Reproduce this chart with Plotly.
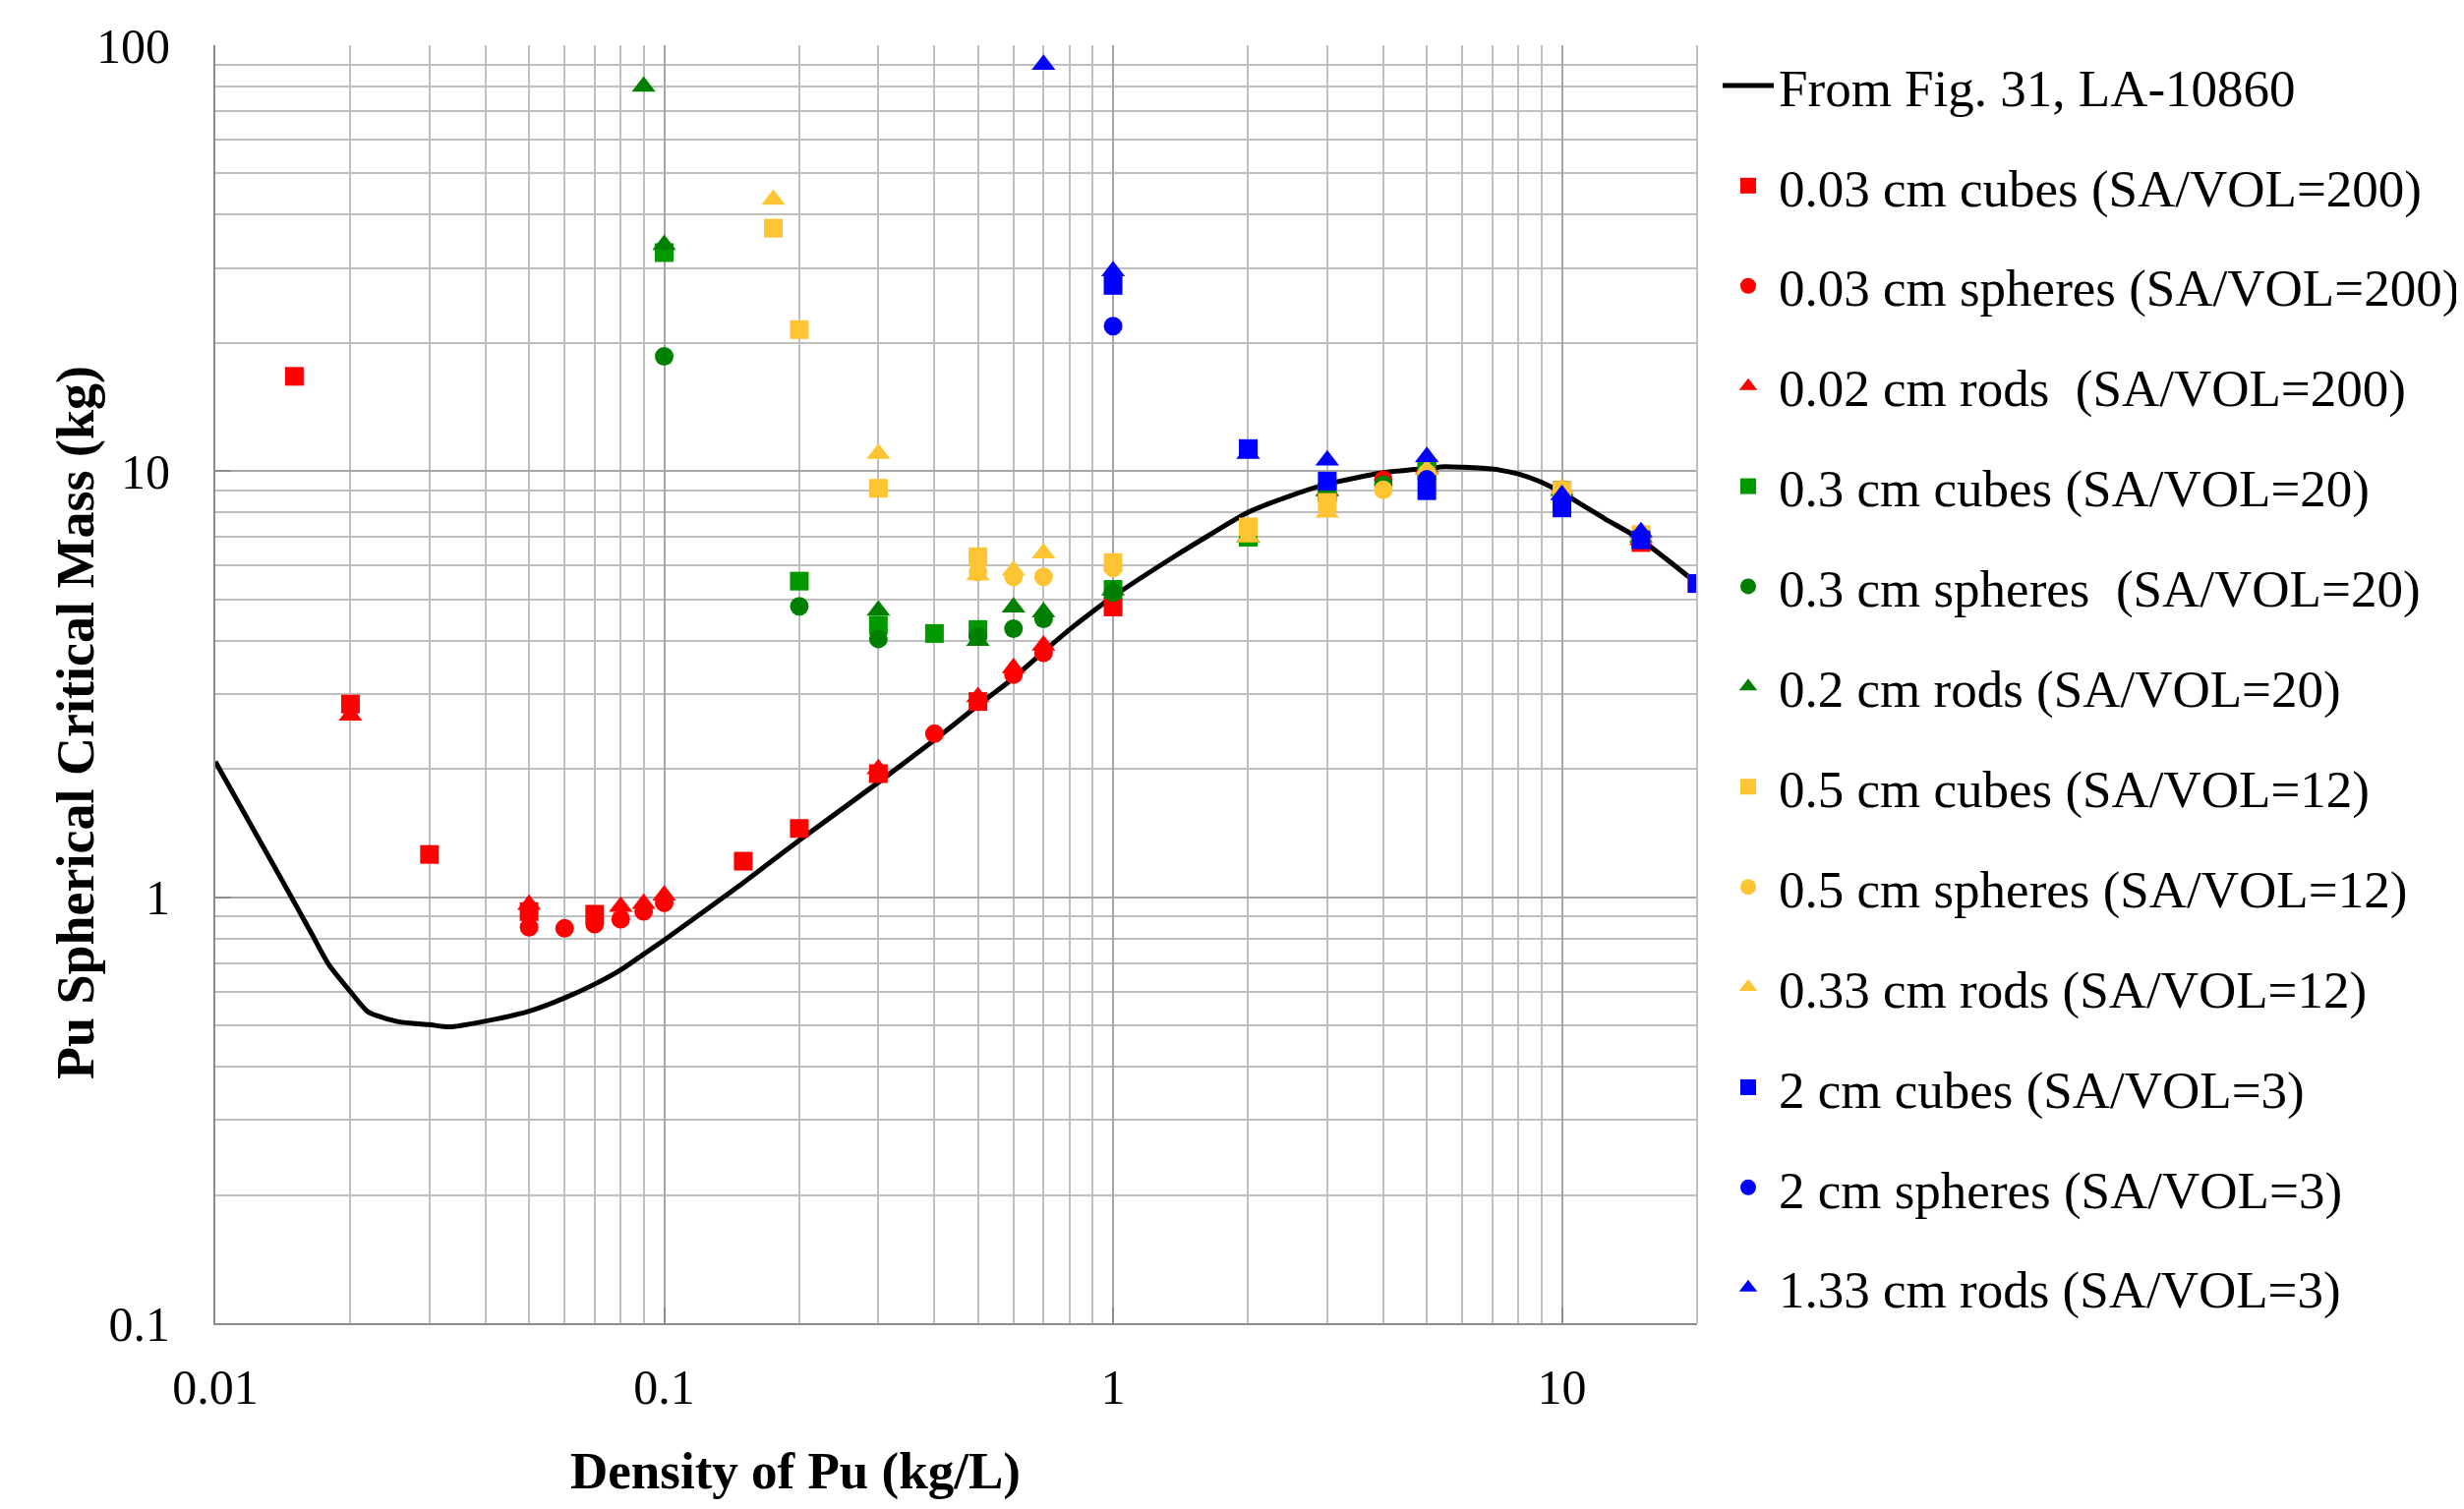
import plotly.graph_objects as go
import numpy as np

# Reference curve (From Fig. 31, LA-10860)
curve_x = [0.01, 0.01426, 0.0164, 0.01786, 0.02, 0.0219, 0.0256, 0.03, 0.0332, 0.0393, 0.05, 0.06, 0.07, 0.08,
           0.09, 0.1, 0.148, 0.2, 0.3, 0.4, 0.5, 0.6, 0.7, 0.8, 0.9, 1, 1.37, 1.66, 2, 2.44, 3, 4, 5, 5.5, 6, 7,
           8, 9, 10, 12.5, 15, 20]
curve_y = [2.08, 1.07, 0.82, 0.697, 0.6, 0.538, 0.51, 0.502, 0.496, 0.51, 0.54, 0.58, 0.625, 0.675, 0.735,
           0.793, 1.07, 1.36, 1.86, 2.34, 2.82, 3.27, 3.77, 4.25, 4.68, 5.08, 6.31, 7.14, 8.01, 8.7, 9.33, 9.92,
           10.15, 10.25, 10.22, 10.12, 9.85, 9.42, 8.9, 7.72, 6.9, 5.45]

# 0.03 cm cubes (SA/VOL=200)
red_cube_x = [0.015, 0.02, 0.03, 0.05, 0.07, 0.15, 0.2, 0.3, 0.5, 1, 2, 3, 5, 10, 15, 20]
red_cube_y = [16.7, 2.84, 1.26, 0.925, 0.912, 1.215, 1.45, 1.95, 2.88, 4.8, 7.1, 8.9, 10.0, 9.0, 6.8, 5.45]
# 0.03 cm spheres (SA/VOL=200)
red_sph_x = [0.05, 0.06, 0.07, 0.08, 0.09, 0.1, 0.4, 0.6, 0.7, 4]
red_sph_y = [0.85, 0.845, 0.865, 0.888, 0.927, 0.97, 2.42, 3.33, 3.75, 9.55]
# 0.02 cm rods (SA/VOL=200)
red_rod_x = [0.02, 0.05, 0.08, 0.09, 0.1, 0.3, 0.5, 0.6, 0.7, 2, 3, 5, 10, 15]
red_rod_y = [2.67, 0.96, 0.95, 0.965, 1.01, 2.0, 2.95, 3.45, 3.9, 7.0, 9.0, 10.2, 9.1, 6.9]

# 0.3 cm cubes (SA/VOL=20)
grn_cube_x = [0.1, 0.2, 0.3, 0.4, 0.5, 1, 2, 3, 5, 10]
grn_cube_y = [32.6, 5.52, 4.35, 4.16, 4.25, 5.28, 7.0, 8.95, 10.0, 9.0]
# 0.3 cm spheres (SA/VOL=20)
grn_sph_x = [0.1, 0.2, 0.3, 0.5, 0.6, 0.7, 1, 4, 5, 10]
grn_sph_y = [18.6, 4.82, 4.04, 4.1, 4.27, 4.5, 5.19, 9.3, 9.8, 9.0]
# 0.2 cm rods (SA/VOL=20)
grn_rod_x = [0.09, 0.1, 0.3, 0.5, 0.6, 0.7, 1, 2, 3, 5, 10, 15]
grn_rod_y = [80.0, 34.0, 4.71, 4.0, 4.79, 4.67, 5.25, 7.0, 9.0, 10.1, 9.0, 7.0]

# 0.5 cm cubes (SA/VOL=12)
yel_cube_x = [0.175, 0.2, 0.3, 0.5, 1, 2, 3, 10, 15, 20]
yel_cube_y = [37.2, 21.5, 9.12, 6.3, 6.1, 7.4, 8.45, 9.0, 7.1, 5.45]
# 0.5 cm spheres (SA/VOL=12)
yel_sph_x = [0.5, 0.6, 0.7, 1, 4, 5, 10]
yel_sph_y = [5.8, 5.65, 5.65, 5.93, 9.04, 9.9, 9.0]
# 0.33 cm rods (SA/VOL=12)
yel_rod_x = [0.175, 0.3, 0.5, 0.6, 0.7, 2, 3, 5, 10, 15]
yel_rod_y = [43.4, 11.0, 5.7, 5.85, 6.42, 7.0, 8.0, 10.1, 9.1, 7.1]

# 2 cm cubes (SA/VOL=3)
blu_cube_x = [1, 2, 3, 5, 10, 15, 20]
blu_cube_y = [27.3, 11.3, 9.48, 9.0, 8.2, 6.9, 5.45]
# 2 cm spheres (SA/VOL=3)
blu_sph_x = [1, 5, 10]
blu_sph_y = [21.9, 9.57, 8.4]
# 1.33 cm rods (SA/VOL=3)
blu_rod_x = [0.7, 1, 2, 3, 5, 10, 15]
blu_rod_y = [90.0, 29.5, 11.0, 10.6, 10.8, 8.8, 7.2]

series = [
    ("0.03 cm cubes (SA/VOL=200)", red_cube_x, red_cube_y, "square", "#FF0000"),
    ("0.03 cm spheres (SA/VOL=200)", red_sph_x, red_sph_y, "circle", "#FF0000"),
    ("0.02 cm rods  (SA/VOL=200)", red_rod_x, red_rod_y, "triangle-up", "#FF0000"),
    ("0.3 cm cubes (SA/VOL=20)", grn_cube_x, grn_cube_y, "square", "#009900"),
    ("0.3 cm spheres  (SA/VOL=20)", grn_sph_x, grn_sph_y, "circle", "#008000"),
    ("0.2 cm rods (SA/VOL=20)", grn_rod_x, grn_rod_y, "triangle-up", "#008000"),
    ("0.5 cm cubes (SA/VOL=12)", yel_cube_x, yel_cube_y, "square", "#FFC433"),
    ("0.5 cm spheres (SA/VOL=12)", yel_sph_x, yel_sph_y, "circle", "#FFC433"),
    ("0.33 cm rods (SA/VOL=12)", yel_rod_x, yel_rod_y, "triangle-up", "#FFC433"),
    ("2 cm cubes (SA/VOL=3)", blu_cube_x, blu_cube_y, "square", "#0000FF"),
    ("2 cm spheres (SA/VOL=3)", blu_sph_x, blu_sph_y, "circle", "#0000FF"),
    ("1.33 cm rods (SA/VOL=3)", blu_rod_x, blu_rod_y, "triangle-up", "#0000FF"),
]

# The page body adds an 8px offset, so the figure is sized/placed to compensate.
W, H = 2498, 1527
L, R, T, B = 211, 1718, 38, 1338

fig = go.Figure()
fig.add_trace(go.Scatter(x=curve_x, y=curve_y, mode="lines", name="From Fig. 31, LA-10860",
                         line=dict(color="black", width=5, shape="spline", smoothing=0.6),
                         legendgroup="g0"))
for i, (name, xs, ys, sym, col) in enumerate(series):
    size = 21 if sym == "triangle-up" else 19
    fig.add_trace(go.Scatter(x=xs, y=ys, mode="markers", name=name,
                             marker=dict(symbol=sym, color=col, size=size, line=dict(width=0)),
                             legendgroup=f"g{i+1}"))

major_x = [0.01, 0.1, 1, 10]
minor_x = [m * d for d in [0.01, 0.1, 1] for m in range(2, 10)] + [20]
major_y = [0.1, 1, 10, 100]
minor_y = [m * d for d in [0.1, 1, 10] for m in range(2, 10)]

serif = "Liberation Serif, Times New Roman, serif"

fig.update_layout(
    width=W, height=H,
    margin=dict(l=L, r=W - R, t=T, b=H - B, pad=0, autoexpand=False),
    paper_bgcolor="white", plot_bgcolor="white",
    font=dict(family=serif, color="black"),
    showlegend=True,
    legend=dict(x=(1739 - L) / (R - L), xanchor="left", y=1.0, yanchor="top",
                font=dict(family=serif, size=53, color="black"),
                tracegroupgap=30, itemwidth=52, bgcolor="rgba(0,0,0,0)"),
    xaxis=dict(type="log", range=[-2, np.log10(20)], tickvals=major_x,
               ticktext=["0.01", "0.1", "1", "10"],
               tickfont=dict(family=serif, size=50, color="black"),
               showgrid=True, gridcolor="#A6A6A6", gridwidth=2,
               minor=dict(tickvals=minor_x, showgrid=True, gridcolor="#BFBFBF", gridwidth=2, ticks=""),
               showline=True, linecolor="#8C8C8C", linewidth=2, mirror=False,
               ticks="inside", ticklen=16, tickcolor="#8C8C8C", tickwidth=2,
               zeroline=False, ticklabelstandoff=20),
    yaxis=dict(type="log", range=[-1, 2], tickvals=major_y,
               ticktext=["0.1", "1", "10", "100"],
               tickfont=dict(family=serif, size=50, color="black"),
               showgrid=True, gridcolor="#A6A6A6", gridwidth=2,
               minor=dict(tickvals=minor_y, showgrid=True, gridcolor="#BFBFBF", gridwidth=2, ticks=""),
               showline=True, linecolor="#8C8C8C", linewidth=2,
               ticks="inside", ticklen=16, tickcolor="#8C8C8C", tickwidth=2,
               zeroline=False, ticklabelstandoff=34),
    annotations=[
        dict(text="<b>Density of Pu (kg/L)</b>", xref="paper", yref="paper",
             x=(801 - L) / (R - L), y=(B - 1489) / (B - T), xanchor="center", yanchor="middle",
             showarrow=False, font=dict(family=serif, size=53, color="black")),
        dict(text="<b>Pu Spherical Critical Mass (kg)</b>", xref="paper", yref="paper",
             x=(69 - L) / (R - L), y=(B - 727) / (B - T), xanchor="center", yanchor="middle",
             textangle=-90, showarrow=False, font=dict(family=serif, size=54, color="black")),
    ],
)
# right border line
fig.add_shape(type="line", xref="paper", yref="paper", x0=1, x1=1, y0=0, y1=1,
              line=dict(color="#BFBFBF", width=2))

fig.write_html("out.html")
